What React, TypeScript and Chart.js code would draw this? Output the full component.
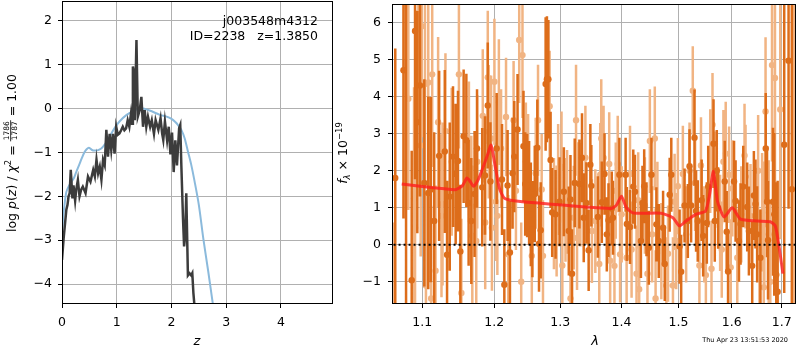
import React, { useEffect, useRef } from 'react';
import { Chart, registerables } from 'chart.js';
Chart.register(...registerables);

// ---------- Left panel: p(z) ----------
const zGrid = [0, 0.03, 0.05, 0.08, 0.1, 0.12, 0.14, 0.16, 0.17, 0.19, 0.21, 0.24, 0.26, 0.29, 0.32, 0.35, 0.38, 0.43, 0.475, 0.52, 0.57, 0.6, 0.63, 0.66, 0.69, 0.72, 0.75, 0.78, 0.81, 0.84, 0.87, 0.9, 0.93, 0.96, 0.99, 1.02, 1.05, 1.08, 1.11, 1.14, 1.17, 1.2, 1.23, 1.26, 1.28, 1.295, 1.31, 1.33, 1.36, 1.385, 1.42, 1.45, 1.48, 1.51, 1.54, 1.57, 1.61, 1.64, 1.68, 1.71, 1.76, 1.8, 1.83, 1.85, 1.88, 1.92, 1.95, 1.98, 2.01, 2.04, 2.07, 2.1, 2.14, 2.16, 2.18, 2.21, 2.23, 2.25, 2.27, 2.3, 2.33, 2.36, 2.38, 2.4, 2.42, 2.44];
const logPz = [-3.45, -2.95, -2.69, -2.3, -2.2, -2.0, -1.93, -1.4, -1.6, -2.05, -1.75, -2.1, -1.85, -1.63, -2.0, -1.85, -1.78, -1.93, -1.55, -1.67, -1.4, -1.55, -1.17, -1.48, -1.33, -1.62, -1.17, -1.29, -0.49, -1.1, -0.58, -0.95, -0.58, -1.03, -0.42, -0.6, -0.57, -0.5, -0.42, -0.5, -0.46, -0.27, -0.42, -0.12, -0.35, 0.95, 0.85, -0.27, 1.55, -0.19, -0.04, 0.26, -0.42, -0.04, -0.42, -0.19, -0.42, -0.27, -0.58, -0.27, -0.49, -0.23, -0.58, -0.72, -0.3, -0.73, -0.42, -1.05, -0.55, -1.45, -0.73, -1.3, -0.45, -0.38, -1.3, -2.5, -3.14, -2.9, -1.93, -3.8, -3.75, -3.8, -3.75, -4.2, -4.5, -5.0];

const zTemplate = [0, 0.02, 0.05, 0.08, 0.12, 0.17, 0.22, 0.26, 0.31, 0.36, 0.41, 0.45, 0.49, 0.53, 0.57, 0.62, 0.66, 0.71, 0.75, 0.8, 0.87, 0.96, 1.05, 1.18, 1.33, 1.45, 1.6, 1.79, 1.91, 2.0, 2.06, 2.12, 2.18, 2.24, 2.3, 2.36, 2.42, 2.5, 2.58, 2.67, 2.75, 2.8];
const logPzTemplate = [-2.9, -2.5, -2.15, -1.9, -1.78, -1.68, -1.58, -1.45, -1.3, -1.14, -1.0, -0.93, -0.895, -0.93, -0.96, -0.96, -0.95, -0.92, -0.87, -0.79, -0.645, -0.45, -0.3, -0.15, -0.04, 0.0, -0.05, -0.15, -0.19, -0.24, -0.3, -0.38, -0.49, -0.68, -0.98, -1.28, -1.65, -2.2, -2.95, -3.7, -4.4, -4.8];

const zTicks = [0, 1, 2, 3, 4];
const pzTicks = [-4, -3, -2, -1, 0, 1, 2];

// ---------- Right panel: spectrum ----------
const darkLam = [1.0607, 1.0646, 1.0752, 1.0786, 1.0860, 1.0904, 1.0934, 1.0970, 1.1027, 1.1080, 1.1115, 1.1160, 1.1227, 1.1304, 1.1335, 1.1372, 1.1417, 1.1454, 1.1486, 1.1519, 1.1565, 1.1603, 1.1635, 1.1673, 1.1719, 1.1754, 1.1828, 1.1868, 1.1908, 1.1946, 1.2037, 1.2115, 1.2149, 1.2197, 1.2232, 1.2271, 1.2296, 1.2345, 1.2434, 1.2460, 1.2489, 1.2519, 1.2545, 1.2569, 1.2605, 1.2644, 1.2670, 1.2696, 1.2772, 1.2792, 1.2815, 1.2849, 1.2874, 1.2927, 1.2989, 1.3057, 1.3135, 1.3162, 1.3187, 1.3230, 1.3305, 1.3347, 1.3375, 1.3418, 1.3455, 1.3483, 1.3499, 1.3606, 1.3671, 1.3716, 1.3754, 1.3782, 1.3837, 1.3857, 1.3965, 1.4071, 1.4092, 1.4146, 1.4202, 1.4231, 1.4334, 1.4361, 1.4391, 1.4431, 1.4472, 1.4518, 1.4605, 1.4647, 1.4724, 1.4754, 1.4842, 1.4871, 1.5021, 1.5050, 1.5112, 1.5172, 1.5203, 1.5232, 1.5295, 1.5324, 1.5355, 1.5428, 1.5456, 1.5525, 1.5551, 1.5651, 1.5675, 1.5713, 1.5739, 1.5865, 1.5903, 1.5929, 1.6045, 1.6075, 1.6141, 1.6172, 1.6225, 1.6303, 1.6336, 1.6402, 1.6435, 1.6467, 1.6500, 1.6566, 1.6673, 1.6699, 1.6719, 1.6820, 1.6846, 1.6887, 1.6915, 1.7050, 1.7140, 1.7208];
const darkFlux = [-2.0, 1.8, 4.71, -2.2, -0.96, 5.77, 3.31, 4.3, 1.67, 1.4, 1.49, 0.64, 2.4, 2.52, -0.27, 1.3, 2.38, 1.91, 2.26, -0.18, 2.93, 2.82, 1.13, 0.64, 1.37, 2.6, 1.55, 1.87, 3.76, 1.71, 2.6, 1.76, -1.08, 1.6, -0.21, 1.93, 2.38, 3.11, 2.66, 1.64, 1.6, 1.4, 0.82, 0.42, 1.37, 2.62, 0.03, 0.39, 4.34, 4.47, 4.47, 2.29, 0.87, 0.82, 1.16, 1.43, 0.37, 1.22, -0.78, 1.67, 1.64, 2.35, 0.73, 1.13, -0.15, 2.16, 1.59, 0.75, 1.15, 1.91, 0.28, 0.66, 0.98, 0.73, 1.89, 1.89, 0.56, 0.48, 1.57, 1.43, 0.1, 1.13, 1.58, 0.69, -0.08, 1.89, 0.55, 0.1, 0.46, -0.52, 1.35, 1.89, -0.05, -0.73, 1.06, 0.64, 2.12, 1.06, 2.89, 0.91, 0.64, 1.2, 0.24, 0.59, 1.57, 2.73, 0.64, 2.0, 0.99, 1.71, 0.35, -0.72, 1.71, 1.18, 0.1, 0.56, 1.57, 1.02, 0.37, -0.57, 1.33, 1.1, 0.28, -0.35, 2.6, 1.16, 0.12, 1.16, 0.82, -0.81, -1.27, 2.7, 4.97, 1.5];
const darkErr = [2.6, 3.5, 4.0, 8.8, 3.5, 4.0, 3.0, 3.0, 2.8, 2.6, 2.5, 2.4, 2.3, 2.2, 2.0, 2.0, 1.9, 1.9, 1.9, 1.8, 1.8, 1.8, 1.7, 1.7, 1.7, 1.6, 1.6, 1.6, 1.7, 1.6, 1.5, 1.5, 1.5, 1.5, 1.4, 1.5, 1.5, 1.5, 1.5, 1.4, 1.4, 1.4, 1.4, 1.3, 1.3, 1.3, 1.3, 1.3, 1.8, 1.7, 1.6, 1.3, 1.2, 1.2, 1.2, 1.2, 1.2, 1.2, 1.2, 1.2, 1.2, 1.2, 1.2, 1.1, 1.1, 1.1, 1.1, 1.1, 1.1, 1.1, 1.0, 1.0, 1.0, 1.0, 1.0, 1.0, 1.0, 1.0, 1.0, 1.0, 1.0, 1.0, 1.0, 1.0, 1.0, 1.0, 1.0, 1.0, 1.0, 1.0, 1.0, 1.0, 1.0, 1.0, 1.0, 1.0, 1.0, 1.0, 1.3, 1.1, 1.1, 1.1, 1.1, 1.1, 1.1, 1.2, 1.1, 1.1, 1.1, 1.1, 1.1, 1.1, 1.1, 1.1, 1.1, 1.1, 1.1, 1.2, 1.2, 1.2, 1.2, 1.2, 1.3, 1.3, 1.5, 1.5, 1.6, 2.0, 2.2, 2.5, 3.0, 4.0, 4.0, 5.5];

const lightLam = [1.0816, 1.0891, 1.0904, 1.0948, 1.0979, 1.0992, 1.1036, 1.1049, 1.1080, 1.1119, 1.1133, 1.1178, 1.1213, 1.1259, 1.1273, 1.1313, 1.1399, 1.1499, 1.1533, 1.1639, 1.1673, 1.1687, 1.1743, 1.1757, 1.1836, 1.1871, 1.1908, 1.1922, 1.1956, 1.1968, 1.2004, 1.2026, 1.2047, 1.2069, 1.2101, 1.2174, 1.2207, 1.2286, 1.2321, 1.2370, 1.2400, 1.2419, 1.2470, 1.2504, 1.2560, 1.2620, 1.2655, 1.2711, 1.2731, 1.2834, 1.2901, 1.2943, 1.2967, 1.3020, 1.3033, 1.3083, 1.3108, 1.3162, 1.3214, 1.3251, 1.3267, 1.3283, 1.3321, 1.3402, 1.3508, 1.3564, 1.3629, 1.3645, 1.3662, 1.3700, 1.3794, 1.3810, 1.3882, 1.3904, 1.3937, 1.3977, 1.4004, 1.4088, 1.4146, 1.4173, 1.4258, 1.4287, 1.4304, 1.4403, 1.4448, 1.4490, 1.4530, 1.4577, 1.4591, 1.4623, 1.4693, 1.4782, 1.4812, 1.4901, 1.4931, 1.4960, 1.4990, 1.5081, 1.5141, 1.5203, 1.5263, 1.5306, 1.5386, 1.5415, 1.5477, 1.5507, 1.5589, 1.5613, 1.5632, 1.5683, 1.5777, 1.5808, 1.5840, 1.5884, 1.5949, 1.5980, 1.6012, 1.6108, 1.6186, 1.6250, 1.6270, 1.6368, 1.6520, 1.6546, 1.6600, 1.6633, 1.6645, 1.6669, 1.6733, 1.6765, 1.6800, 1.6860, 1.6968, 1.7250];
const lightFlux = [3.94, 1.25, 0.46, 6.25, 2.68, 5.9, 4.34, -1.1, 4.38, -1.45, 4.6, -0.7, 3.31, 0.78, 1.1, 3.07, 2.24, 4.6, -1.3, 2.51, 1.04, 0.24, 0.1, 2.24, 3.48, 0.6, 4.52, 3.05, 2.87, 0.46, 4.4, 1.16, 0.78, 3.85, 2.6, 3.45, -0.26, 3.36, 1.46, 5.53, -1.0, 5.12, 2.24, 1.93, -0.3, 1.93, 3.36, 1.49, -0.3, 3.74, 0.84, 0.64, 1.76, 2.1, -0.56, 0.94, 1.16, -1.45, 0.73, 3.36, 0.18, 1.37, 1.35, 2.35, 0.37, 0.64, -0.52, 1.89, 2.87, 2.35, 2.18, -0.43, -0.57, 1.46, 2.18, -0.26, 0.82, -0.35, 1.91, -0.13, -0.78, 1.2, -1.2, 1.06, -0.78, 2.8, 0.28, 2.87, -1.45, 0.94, -0.17, -1.1, -0.24, -1.1, 1.16, 0.1, 1.58, 1.91, 0.28, 2.0, 4.16, 1.67, -0.56, 2.14, 0.28, -0.82, 2.26, -0.65, 3.24, 1.76, 0.59, -0.13, 2.24, 2.46, 1.89, -0.61, 1.52, -0.35, 0.82, 2.41, 1.84, 0.78, 2.0, -0.57, 0.88, -1.15, 0.55, 3.6, 0.28, -1.0, 4.85, 4.5, 3.65, 3.0];
const lightErr = [3.0, 3.0, 3.5, 3.0, 3.0, 3.0, 2.8, 2.5, 2.6, 2.5, 2.5, 2.3, 2.3, 2.2, 2.2, 2.1, 2.0, 2.0, 2.0, 1.9, 1.9, 1.9, 1.8, 1.8, 1.8, 1.8, 1.8, 1.8, 1.7, 1.7, 1.7, 1.6, 1.6, 1.7, 1.6, 1.6, 1.6, 1.6, 1.6, 1.7, 1.6, 1.7, 1.6, 1.6, 1.5, 1.5, 1.5, 1.5, 1.5, 1.5, 1.5, 1.5, 1.5, 1.5, 1.5, 1.4, 1.4, 1.4, 1.4, 1.5, 1.4, 1.4, 1.4, 1.4, 1.4, 1.4, 1.4, 1.4, 1.6, 1.4, 1.4, 1.4, 1.3, 1.3, 1.3, 1.3, 1.3, 1.3, 1.3, 1.3, 1.3, 1.3, 1.3, 1.3, 1.3, 1.4, 1.3, 1.4, 1.3, 1.3, 1.3, 1.3, 1.3, 1.3, 1.3, 1.3, 1.3, 1.3, 1.3, 1.3, 1.2, 1.3, 1.3, 1.3, 1.3, 1.3, 1.4, 1.3, 1.4, 1.3, 1.3, 1.3, 1.4, 1.4, 1.3, 1.3, 1.3, 1.3, 1.3, 1.4, 1.4, 1.4, 1.5, 1.5, 1.6, 1.6, 1.7, 2.0, 2.0, 2.2, 2.6, 3.5, 3.5, 5.0];

const modelLam = [1.073, 1.10, 1.13, 1.146, 1.155, 1.161, 1.166, 1.1704, 1.177, 1.1836, 1.19, 1.1956, 1.2003, 1.2076, 1.2149, 1.2319, 1.27, 1.303, 1.34, 1.383, 1.3916, 1.40, 1.4083, 1.4197, 1.44, 1.469, 1.49, 1.5017, 1.5138, 1.532, 1.55, 1.557, 1.565, 1.5726, 1.5853, 1.601, 1.6173, 1.65, 1.6765, 1.6866, 1.6936, 1.7023];
const modelFlux = [1.64, 1.57, 1.51, 1.49, 1.6, 1.8, 1.7, 1.58, 1.75, 2.07, 2.4, 2.69, 2.25, 1.53, 1.26, 1.18, 1.12, 1.07, 1.02, 0.98, 1.07, 1.31, 1.0, 0.86, 0.85, 0.85, 0.73, 0.51, 0.64, 0.82, 0.91, 1.3, 1.98, 1.18, 0.75, 1.0, 0.69, 0.64, 0.62, 0.51, 0.02, -0.78];

const lamTicks = [1.1, 1.2, 1.3, 1.4, 1.5, 1.6, 1.7];
const fluxTicks = [-1, 0, 1, 2, 3, 4, 5, 6];

const FONT = '"DejaVu Sans"';
const minus = (v: number) => (v < 0 ? '\u2212' + Math.abs(v) : String(v));

type Part = { t?: string; italic?: boolean; size: number; dy?: number; frac?: [string, string]; numDy?: number; denDy?: number; barDy?: number };

function fontOf(p: Part) {
  return `${p.italic ? 'italic ' : ''}${p.size}px ${FONT}`;
}

function drawParts(ctx: CanvasRenderingContext2D, parts: Part[], cx: number, cy: number, rotate: boolean) {
  ctx.save();
  ctx.translate(cx, cy);
  if (rotate) ctx.rotate(-Math.PI / 2);
  ctx.textBaseline = 'alphabetic';
  ctx.textAlign = 'left';
  ctx.fillStyle = '#000';
  const widths = parts.map((p) => {
    ctx.font = fontOf(p);
    if (p.frac) return Math.max(ctx.measureText(p.frac[0]).width, ctx.measureText(p.frac[1]).width) + 2;
    return ctx.measureText(p.t || '').width;
  });
  const total = widths.reduce((a, b) => a + b, 0);
  let x = -total / 2;
  parts.forEach((p, i) => {
    ctx.font = fontOf(p);
    if (p.frac) {
      const w = widths[i];
      ctx.textAlign = 'center';
      ctx.fillText(p.frac[0], x + w / 2, p.numDy || 0);
      ctx.fillText(p.frac[1], x + w / 2, p.denDy || 0);
      ctx.textAlign = 'left';
      ctx.fillRect(x, (p.barDy || 0) - 0.4, w, 0.8);
    } else {
      ctx.fillText(p.t || '', x, p.dy || 0);
    }
    x += widths[i];
  });
  ctx.restore();
}

function frame(chart: any) {
  const a = chart.chartArea;
  const ctx = chart.ctx;
  ctx.save();
  ctx.strokeStyle = '#000';
  ctx.lineWidth = 1;
  ctx.strokeRect(Math.round(a.left) + 0.5, Math.round(a.top) + 0.5, Math.round(a.right - a.left) - 1, Math.round(a.bottom - a.top) - 1);
  ctx.restore();
}

const leftText = {
  id: 'leftText',
  afterDraw(chart: any) {
    frame(chart);
    const ctx = chart.ctx as CanvasRenderingContext2D;
    ctx.save();
    ctx.fillStyle = '#000';
    ctx.font = `12.5px ${FONT}`;
    ctx.textAlign = 'right';
    ctx.textBaseline = 'alphabetic';
    ctx.fillText('j003548m4312', 318, 25);
    ctx.fillText('ID=2238   z=1.3850', 318, 39.5);
    ctx.restore();
    drawParts(ctx, [{ t: 'z', italic: true, size: 13 }], 197, 345, false);
    drawParts(
      ctx,
      [
        { t: 'log ', size: 12.5 },
        { t: 'p', italic: true, size: 12.5 },
        { t: '(', size: 12.5 },
        { t: 'z', italic: true, size: 12.5 },
        { t: ') / ', size: 12.5 },
        { t: '\u03c7', italic: true, size: 12.5 },
        { t: '2', size: 8.5, dy: -5 },
        { t: ' = ', size: 12.5 },
        { frac: ['1786', '1787'], size: 7.5, numDy: -6.2, denDy: 1.4, barDy: -4.8 },
        { t: ' = 1.00', size: 12.5 },
      ],
      15.5,
      153,
      true
    );
  },
};

const rightText = {
  id: 'rightText',
  afterDraw(chart: any) {
    frame(chart);
    const ctx = chart.ctx as CanvasRenderingContext2D;
    drawParts(ctx, [{ t: '\u03bb', italic: true, size: 13 }], 595, 345, false);
    drawParts(
      ctx,
      [
        { t: 'f', italic: true, size: 12.5 },
        { t: '\u03bb', italic: true, size: 8.5, dy: 3 },
        { t: ' \u00d7 10', size: 12.5 },
        { t: '\u221219', size: 8.5, dy: -5 },
      ],
      347,
      153,
      true
    );
    ctx.save();
    ctx.fillStyle = '#000';
    ctx.font = `6.5px ${FONT}`;
    ctx.textAlign = 'right';
    ctx.textBaseline = 'alphabetic';
    ctx.fillText('Thu Apr 23 13:51:53 2020', 788, 342);
    ctx.restore();
  },
};

function errSegments(lam: number[], flux: number[], err: number[]) {
  const out: { x: number; y: number | null }[] = [];
  lam.forEach((l, i) => {
    out.push({ x: l, y: flux[i] - err[i] });
    out.push({ x: l, y: flux[i] + err[i] });
    out.push({ x: l, y: null });
  });
  return out;
}

const DARK = '#dd6d1a';
const LIGHT = '#f1b483';

const gridCommon = { color: '#b0b0b0', lineWidth: 1, tickColor: '#000', tickLength: 4, tickWidth: 1 };
const noBorder = { display: false };

const fitX = (s: any) => {
  s.height = 46;
  s.paddingLeft = 0;
  s.paddingRight = 0;
  s.paddingTop = 0;
  s.paddingBottom = 0;
};
const fitY = (w: number) => (s: any) => {
  s.width = w;
  s.paddingLeft = 0;
  s.paddingRight = 0;
  s.paddingTop = 0;
  s.paddingBottom = 0;
};

export default function App() {
  const leftRef = useRef<HTMLCanvasElement>(null);
  const rightRef = useRef<HTMLCanvasElement>(null);

  useEffect(() => {
    Chart.defaults.font.family = FONT;
    const left = new Chart(leftRef.current!, {
      type: 'line',
      data: {
        datasets: [
          {
            data: zGrid.map((z, i) => ({ x: z, y: logPz[i] })),
            borderColor: '#3c3c3c',
            borderWidth: 2.5,
            pointRadius: 0,
            tension: 0,
            order: 1,
          },
          {
            data: zTemplate.map((z, i) => ({ x: z, y: logPzTemplate[i] })),
            borderColor: '#8bbadc',
            borderWidth: 2,
            pointRadius: 0,
            tension: 0.3,
            order: 2,
          },
        ],
      },
      options: {
        animation: false,
        responsive: false,
        maintainAspectRatio: false,
        layout: { padding: { left: 0, right: 467, top: 1, bottom: 0 } },
        plugins: { legend: { display: false }, tooltip: { enabled: false } },
        scales: {
          x: {
            type: 'linear',
            min: 0,
            max: 4.95,
            afterBuildTicks: (s: any) => {
              s.ticks = zTicks.map((v) => ({ value: v }));
            },
            afterFit: fitX,
            grid: gridCommon,
            border: noBorder,
            ticks: { font: { size: 12.5 }, color: '#000', padding: 7, maxRotation: 0, autoSkip: false, callback: (v: any) => minus(Number(v)) },
          },
          y: {
            type: 'linear',
            min: -4.45,
            max: 2.44,
            afterBuildTicks: (s: any) => {
              s.ticks = pzTicks.map((v) => ({ value: v }));
            },
            afterFit: fitY(62),
            grid: gridCommon,
            border: noBorder,
            ticks: { font: { size: 12.5 }, color: '#000', padding: 6, autoSkip: false, callback: (v: any) => minus(Number(v)) },
          },
        },
      },
      plugins: [leftText],
    } as any);

    const right = new Chart(rightRef.current!, {
      type: 'line',
      data: {
        datasets: [
          {
            data: [{ x: 1.0, y: 0 }, { x: 1.8, y: 0 }],
            borderColor: '#000',
            borderWidth: 2,
            borderDash: [2, 3],
            pointRadius: 0,
            order: 0,
          },
          {
            data: modelLam.map((l, i) => ({ x: l, y: modelFlux[i] })),
            borderColor: 'rgba(255,30,30,0.8)',
            borderWidth: 3,
            pointRadius: 0,
            tension: 0.2,
            order: 1,
          },
          {
            data: darkLam.map((l, i) => ({ x: l, y: darkFlux[i] })),
            showLine: false,
            pointRadius: 3.2,
            pointBackgroundColor: DARK,
            pointBorderWidth: 0,
            order: 2,
          },
          {
            data: errSegments(darkLam, darkFlux, darkErr),
            borderColor: DARK,
            borderWidth: 2.5,
            borderCapStyle: 'butt',
            pointRadius: 0,
            spanGaps: false,
            order: 3,
          },
          {
            data: lightLam.map((l, i) => ({ x: l, y: lightFlux[i] })),
            showLine: false,
            pointRadius: 3.2,
            pointBackgroundColor: LIGHT,
            pointBorderWidth: 0,
            order: 4,
          },
          {
            data: errSegments(lightLam, lightFlux, lightErr),
            borderColor: LIGHT,
            borderWidth: 2.5,
            borderCapStyle: 'butt',
            pointRadius: 0,
            spanGaps: false,
            order: 5,
          },
        ],
      },
      options: {
        animation: false,
        responsive: false,
        maintainAspectRatio: false,
        layout: { padding: { left: 335, right: 1, top: 1, bottom: 0 } },
        plugins: { legend: { display: false }, tooltip: { enabled: false } },
        scales: {
          x: {
            type: 'logarithmic',
            min: 1.0604,
            max: 1.7295,
            afterBuildTicks: (s: any) => {
              s.ticks = lamTicks.map((v) => ({ value: v }));
            },
            afterFit: fitX,
            grid: gridCommon,
            border: noBorder,
            ticks: { font: { size: 12.5 }, color: '#000', padding: 7, maxRotation: 0, autoSkip: false, callback: (v: any) => Number(v).toFixed(1) },
          },
          y: {
            type: 'linear',
            min: -1.6,
            max: 6.5,
            afterBuildTicks: (s: any) => {
              s.ticks = fluxTicks.map((v) => ({ value: v }));
            },
            afterFit: fitY(57),
            grid: gridCommon,
            border: noBorder,
            ticks: { font: { size: 12.5 }, color: '#000', padding: 7, autoSkip: false, callback: (v: any) => minus(Number(v)) },
          },
        },
      },
      plugins: [rightText],
    } as any);

    return () => {
      left.destroy();
      right.destroy();
    };
  }, []);

  return (
    <div style={{ position: 'fixed', left: 0, top: 0, width: 800, height: 350, background: '#fff' }}>
      <canvas ref={leftRef} width={800} height={350} style={{ position: 'absolute', left: 0, top: 0 }} />
      <canvas ref={rightRef} width={800} height={350} style={{ position: 'absolute', left: 0, top: 0 }} />
    </div>
  );
}
